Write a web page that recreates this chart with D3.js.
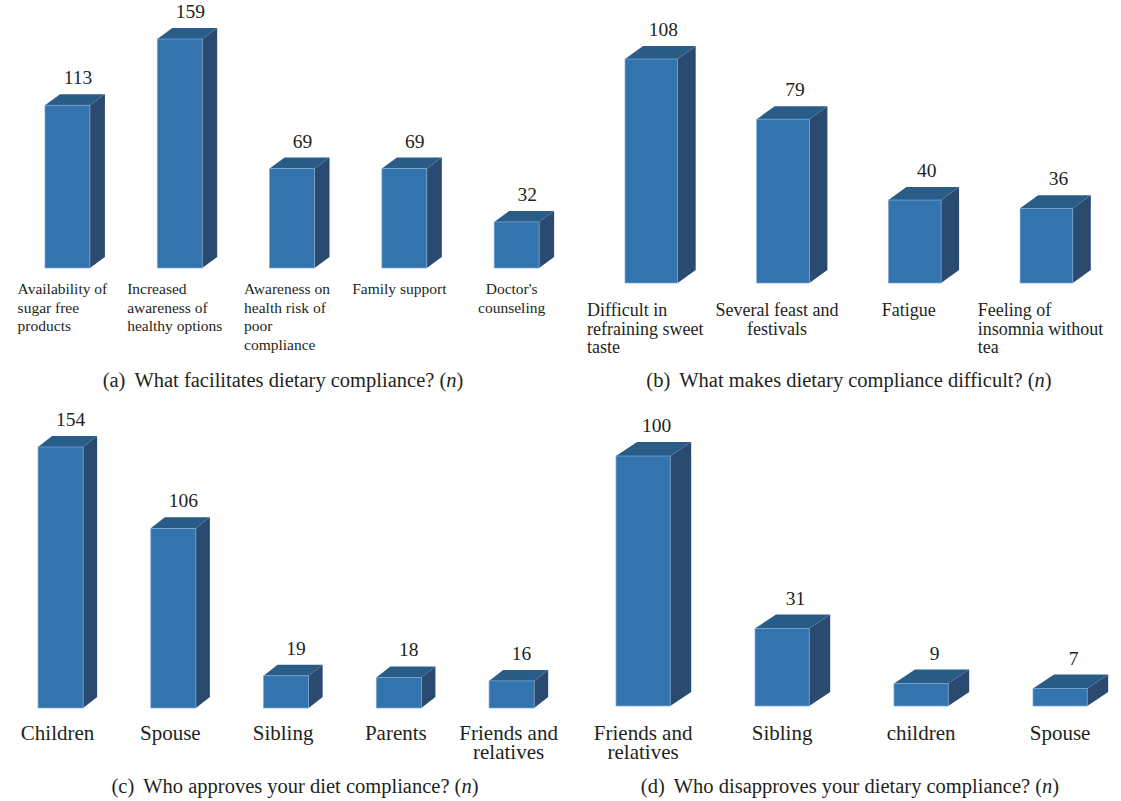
<!DOCTYPE html>
<html>
<head>
<meta charset="utf-8">
<script src="https://cdn.jsdelivr.net/npm/d3@7"></script>
<style>
  html, body { margin: 0; padding: 0; background: #ffffff; }
  svg { display: block; }
  text { font-family: "Liberation Serif", "DejaVu Serif", serif; fill: #231f20; }
</style>
</head>
<body>
<svg id="chart" width="1121" height="801"></svg>
<script>
// ---------- data ----------
const categoriesA = [
  ["Availability of", "sugar free", "products"],
  ["Increased", "awareness of", "healthy options"],
  ["Awareness on", "health risk of", "poor", "compliance"],
  ["Family support"],
  ["Doctor's", "counseling"]
];
const valuesA = [113, 159, 69, 69, 32];

const categoriesB = [
  ["Difficult in", "refraining sweet", "taste"],
  ["Several feast and", "festivals"],
  ["Fatigue"],
  ["Feeling of", "insomnia without", "tea"]
];
const valuesB = [108, 79, 40, 36];

const categoriesC = [
  ["Children"],
  ["Spouse"],
  ["Sibling"],
  ["Parents"],
  ["Friends and", "relatives"]
];
const valuesC = [154, 106, 19, 18, 16];

const categoriesD = [
  ["Friends and", "relatives"],
  ["Sibling"],
  ["children"],
  ["Spouse"]
];
const valuesD = [100, 31, 9, 7];

const titleA = ["(a)", "What facilitates dietary compliance? (", "n", ")"];
const titleB = ["(b)", "What makes dietary compliance difficult? (", "n", ")"];
const titleC = ["(c)", "Who approves your diet compliance? (", "n", ")"];
const titleD = ["(d)", "Who disapproves your dietary compliance? (", "n", ")"];

// ---------- styles / layout ----------
const FRONT = "#3474ae";
const TOP = "#2a5c88";
const SIDE = "#2a4a70";
const EDGE = "#7fa8d6";

const panels = [
  { cats: categoriesA, vals: valuesA, title: titleA,
    range: [11.3, 572.8], pi: 0.6, po: 0.3, base: 268, topY: 39,
    dx: 15, dy: 11, valSize: 19.5, labSize: 15.5, labLine: 18.5, labY: 294,
    align: ["block", "block", "block", "block", "center"], labShift: -5,
    titleX: 283, titleY: 387 },
  { cats: categoriesB, vals: valuesB, title: titleB,
    range: [585.5, 1112.3], pi: 0.6, po: 0.3, base: 283, topY: 59,
    dx: 18, dy: 13, valSize: 19.5, labSize: 18, labLine: 18.5, labY: 316,
    align: ["block", "center", "center", "block"], labShift: -6,
    titleX: 849, titleY: 387 },
  { cats: categoriesC, vals: valuesC, title: titleC,
    range: [4.2, 568], pi: 0.6, po: 0.3, base: 708, topY: 447,
    dx: 14, dy: 11, valSize: 19.5, labSize: 21, labLine: 19, labY: 740,
    align: ["center", "center", "center", "center", "center"], labShift: -3,
    titleX: 295, titleY: 793 },
  { cats: categoriesD, vals: valuesD, title: titleD,
    range: [574.3, 1128.9], pi: 0.61, po: 0.3, base: 706, topY: 456,
    dx: 21, dy: 14, valSize: 19.5, labSize: 21, labLine: 19, labY: 740,
    align: ["center", "center", "center", "center"], labShift: 0,
    titleX: 850, titleY: 793 }
];

const svg = d3.select("#chart");

panels.forEach(p => {
  const g = svg.append("g");
  const keys = p.cats.map((c, i) => i);
  const x = d3.scaleBand().domain(keys).range(p.range)
    .paddingInner(p.pi).paddingOuter(p.po);
  const y = d3.scaleLinear().domain([0, d3.max(p.vals)]).range([p.base, p.topY]);
  const w = x.bandwidth();

  const bars = g.selectAll("g.bar").data(p.vals).join("g").attr("class", "bar");

  // side face
  bars.append("path")
    .attr("d", (d, i) => {
      const x1 = x(i) + w, yt = y(d), yb = y(0);
      return `M${x1},${yt} L${x1 + p.dx},${yt - p.dy} L${x1 + p.dx},${yb - p.dy} L${x1},${yb} Z`;
    })
    .attr("fill", SIDE);
  // top face
  bars.append("path")
    .attr("d", (d, i) => {
      const x0 = x(i), yt = y(d);
      return `M${x0},${yt} L${x0 + p.dx},${yt - p.dy} L${x0 + w + p.dx},${yt - p.dy} L${x0 + w},${yt} Z`;
    })
    .attr("fill", TOP);
  // front face
  bars.append("rect")
    .attr("x", (d, i) => x(i))
    .attr("y", d => y(d))
    .attr("width", w)
    .attr("height", d => y(0) - y(d))
    .attr("fill", FRONT)
    .attr("stroke", EDGE)
    .attr("stroke-width", 0.7);

  // value labels
  bars.append("text")
    .attr("x", (d, i) => x(i) + w / 2 + p.dx / 2 + 3)
    .attr("y", d => y(d) - p.dy - 10)
    .attr("text-anchor", "middle")
    .attr("font-size", p.valSize)
    .text(d => d);

  // category labels
  p.cats.forEach((lines, i) => {
    const cx = x(i) + w / 2 + p.labShift;
    const t = g.append("text")
      .attr("font-size", p.labSize)
      .attr("y", p.labY);
    lines.forEach((ln, k) => {
      t.append("tspan").attr("dy", k === 0 ? 0 : p.labLine).text(ln);
    });
    const tsp = t.selectAll("tspan");
    if (p.align[i] === "center") {
      t.attr("text-anchor", "middle");
      tsp.attr("x", cx);
    } else {
      let maxW = 0;
      tsp.each(function () { maxW = Math.max(maxW, this.getComputedTextLength()); });
      tsp.attr("x", cx - maxW / 2);
    }
  });

  // title
  const tt = g.append("text")
    .attr("x", p.titleX).attr("y", p.titleY)
    .attr("text-anchor", "middle")
    .attr("font-size", 20.5);
  tt.append("tspan").text(p.title[0]);
  tt.append("tspan").attr("dx", 9).text(p.title[1]);
  tt.append("tspan").attr("font-style", "italic").text(p.title[2]);
  tt.append("tspan").text(p.title[3]);
});
</script>
</body>
</html>
